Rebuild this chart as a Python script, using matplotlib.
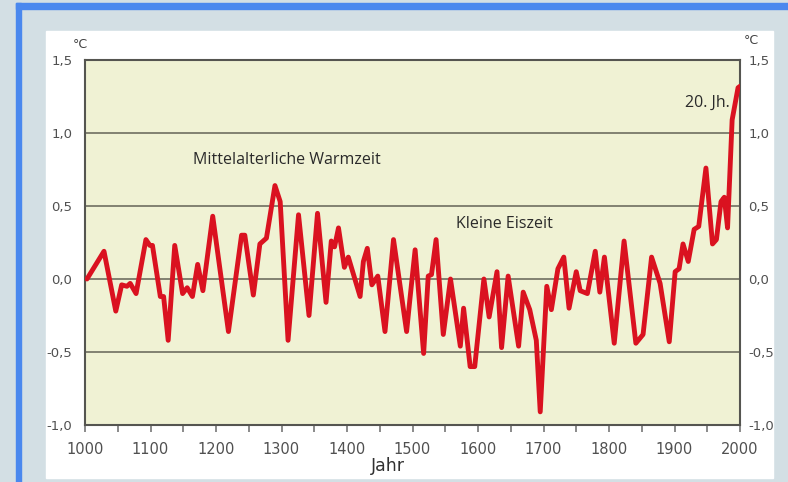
import matplotlib.pyplot as plt
from matplotlib.patches import Rectangle

# reconstructed temperature anomaly (deg C)
years = [1003, 1029, 1047, 1056, 1064, 1069, 1078, 1093, 1099, 1103, 1115, 1120,
         1127, 1137, 1149, 1156, 1164, 1172, 1180, 1195, 1219, 1239, 1244, 1257,
         1267, 1277, 1290, 1298, 1310, 1326, 1342, 1355, 1368, 1376, 1381, 1387,
         1396, 1402, 1420, 1425, 1431, 1438, 1447, 1458, 1471, 1491, 1496, 1504,
         1517, 1524, 1529, 1536, 1547, 1558, 1573, 1578, 1588, 1595, 1609, 1617,
         1629, 1636, 1646, 1662, 1669, 1679, 1689, 1695, 1705, 1712, 1722, 1731,
         1739, 1750, 1756, 1767, 1779, 1786, 1793, 1808, 1823, 1841, 1852, 1865,
         1878, 1892, 1901, 1907, 1913, 1921, 1930, 1937, 1948, 1958, 1964, 1971,
         1976, 1981, 1988, 1997, 2000]
temps = [0.00, 0.19, -0.22, -0.04, -0.05, -0.03, -0.10, 0.27, 0.23, 0.23, -0.12, -0.12,
         -0.42, 0.23, -0.10, -0.06, -0.12, 0.10, -0.08, 0.43, -0.36, 0.30, 0.30, -0.11,
         0.24, 0.28, 0.64, 0.53, -0.42, 0.44, -0.25, 0.45, -0.16, 0.26, 0.22, 0.35,
         0.08, 0.15, -0.12, 0.12, 0.21, -0.04, 0.02, -0.36, 0.27, -0.36, -0.14, 0.20,
         -0.51, 0.02, 0.03, 0.27, -0.38, 0.00, -0.46, -0.20, -0.60, -0.60, 0.00, -0.26,
         0.05, -0.47, 0.02, -0.46, -0.09, -0.21, -0.42, -0.91, -0.05, -0.21, 0.07, 0.15,
         -0.20, 0.05, -0.08, -0.10, 0.19, -0.09, 0.15, -0.44, 0.26, -0.44, -0.38, 0.15,
         -0.03, -0.43, 0.05, 0.07, 0.24, 0.12, 0.34, 0.36, 0.76, 0.24, 0.27, 0.53,
         0.56, 0.35, 1.09, 1.31, 1.32]

x_ticks = [1000, 1100, 1200, 1300, 1400, 1500, 1600, 1700, 1800, 1900, 2000]
y_ticks = [-1.0, -0.5, 0.0, 0.5, 1.0, 1.5]
y_labels = ['-1,0', '-0,5', '0,0', '0,5', '1,0', '1,5']

W, H = 788, 482
fig = plt.figure(figsize=(W / 100, H / 100), dpi=100)
fig.patch.set_facecolor('#d3dfe4')

def px_rect(x0, y0, x1, y1, color):
    fig.patches.append(Rectangle((x0 / W, 1 - y1 / H), (x1 - x0) / W, (y1 - y0) / H,
                                 transform=fig.transFigure, color=color, zorder=-10))

# blue frame (top and left) and white panel
px_rect(16, 3, W, 9, '#4a88ee')
px_rect(16, 3, 21, H, '#4a88ee')
px_rect(46, 31, 773, 478, 'white')

ax = fig.add_axes([85 / W, 1 - 425 / H, 655 / W, 365 / H])
ax.set_facecolor('#f0f2d4')
ax.plot(years, temps, color='#da1220', linewidth=3.5, solid_joinstyle='round',
        solid_capstyle='round', zorder=3)

ax.set_xlim(1000, 2000)
ax.set_ylim(-1.0, 1.5)
ax.set_xticks(x_ticks)
ax.set_xticks(range(1050, 2000, 100), minor=True)
ax.set_yticks(y_ticks)
ax.set_yticklabels(y_labels)
ax.grid(axis='y', color='#6f6f60', linewidth=1.2, zorder=1)

tick_color = '#505050'
ax.tick_params(axis='x', which='both', direction='out', length=5, width=1.2,
               color='#777777', labelsize=10.5, labelcolor=tick_color, pad=7)
ax.tick_params(axis='y', length=0, labelsize=9.5, labelcolor=tick_color, pad=9)
for s in ax.spines.values():
    s.set_color('#555550')
    s.set_linewidth(1.5)

ax2 = ax.twinx()
ax2.set_ylim(-1.0, 1.5)
ax2.set_yticks(y_ticks)
ax2.set_yticklabels(y_labels)
ax2.tick_params(axis='y', length=0, labelsize=9.5, labelcolor=tick_color, pad=6)
for s in ax2.spines.values():
    s.set_visible(False)

fig.text(80 / W, 1 - 44 / H, '°C', fontsize=9, color='#404040', ha='center', va='center')
fig.text(751 / W, 1 - 41 / H, '°C', fontsize=9, color='#404040', ha='center', va='center')
ax.text(1462, -1.28, 'Jahr', fontsize=12.5, color='#303030', ha='center', va='center')

ann = dict(fontsize=11.5, color='#2a2a2a', family='Open Sans', ha='center', va='center')
ax.text(1308, 0.815, 'Mittelalterliche Warmzeit', **ann)
ax.text(1641, 0.377, 'Kleine Eiszeit', **ann)
ax.text(1950, 1.205, '20. Jh.', **ann)

fig.savefig('out.png', dpi=100, facecolor=fig.get_facecolor())
